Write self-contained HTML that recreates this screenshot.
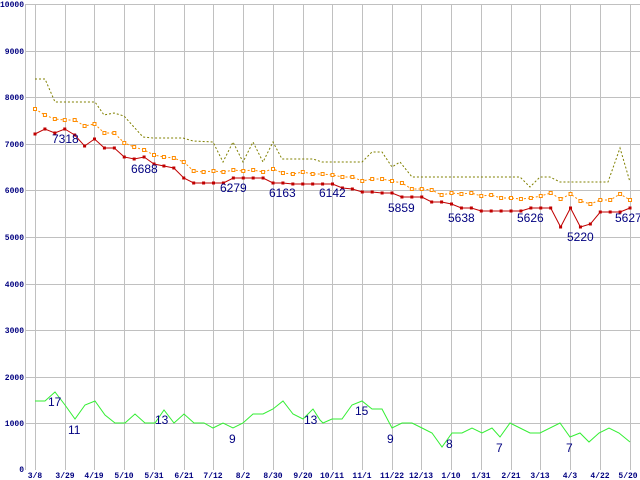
<!DOCTYPE html>
<html><head><style>
html,body{margin:0;padding:0;background:#fff;}
svg{display:block;}
.yl{font:bold 8px "Liberation Mono",monospace;fill:#000080;text-anchor:end;}
.xl{font:bold 8px "Liberation Mono",monospace;fill:#000080;text-anchor:middle;}
.lb{font:12px "Liberation Sans",sans-serif;fill:#000080;}
</style></head><body>
<svg width="640" height="480" xmlns="http://www.w3.org/2000/svg">
<rect width="640" height="480" fill="#fff"/>
<g stroke="#c0c0c0" stroke-width="1">
<line x1="25" y1="4.5" x2="640" y2="4.5"/>
<line x1="25" y1="51.5" x2="640" y2="51.5"/>
<line x1="25" y1="97.5" x2="640" y2="97.5"/>
<line x1="25" y1="144.5" x2="640" y2="144.5"/>
<line x1="25" y1="190.5" x2="640" y2="190.5"/>
<line x1="25" y1="237.5" x2="640" y2="237.5"/>
<line x1="25" y1="284.5" x2="640" y2="284.5"/>
<line x1="25" y1="330.5" x2="640" y2="330.5"/>
<line x1="25" y1="377.5" x2="640" y2="377.5"/>
<line x1="25" y1="423.5" x2="640" y2="423.5"/>
<line x1="25.5" y1="4" x2="25.5" y2="470"/>
<line x1="35.5" y1="4" x2="35.5" y2="470"/><line x1="65.5" y1="4" x2="65.5" y2="470"/><line x1="94.5" y1="4" x2="94.5" y2="470"/><line x1="124.5" y1="4" x2="124.5" y2="470"/><line x1="154.5" y1="4" x2="154.5" y2="470"/><line x1="184.5" y1="4" x2="184.5" y2="470"/><line x1="213.5" y1="4" x2="213.5" y2="470"/><line x1="243.5" y1="4" x2="243.5" y2="470"/><line x1="273.5" y1="4" x2="273.5" y2="470"/><line x1="303.5" y1="4" x2="303.5" y2="470"/><line x1="332.5" y1="4" x2="332.5" y2="470"/><line x1="362.5" y1="4" x2="362.5" y2="470"/><line x1="392.5" y1="4" x2="392.5" y2="470"/><line x1="421.5" y1="4" x2="421.5" y2="470"/><line x1="451.5" y1="4" x2="451.5" y2="470"/><line x1="481.5" y1="4" x2="481.5" y2="470"/><line x1="511.5" y1="4" x2="511.5" y2="470"/><line x1="540.5" y1="4" x2="540.5" y2="470"/><line x1="570.5" y1="4" x2="570.5" y2="470"/><line x1="600.5" y1="4" x2="600.5" y2="470"/><line x1="630.5" y1="4" x2="630.5" y2="470"/>
</g>
<g>
<text class="yl" x="24" y="7">10000</text>
<text class="yl" x="24" y="54">9000</text>
<text class="yl" x="24" y="100">8000</text>
<text class="yl" x="24" y="147">7000</text>
<text class="yl" x="24" y="193">6000</text>
<text class="yl" x="24" y="240">5000</text>
<text class="yl" x="24" y="287">4000</text>
<text class="yl" x="24" y="333">3000</text>
<text class="yl" x="24" y="380">2000</text>
<text class="yl" x="24" y="426">1000</text>
<text class="yl" x="24" y="472">0</text>
</g>
<g>
<text class="xl" x="35" y="478">3/8</text><text class="xl" x="65" y="478">3/29</text><text class="xl" x="94" y="478">4/19</text><text class="xl" x="124" y="478">5/10</text><text class="xl" x="154" y="478">5/31</text><text class="xl" x="184" y="478">6/21</text><text class="xl" x="213" y="478">7/12</text><text class="xl" x="243" y="478">8/2</text><text class="xl" x="273" y="478">8/30</text><text class="xl" x="303" y="478">9/20</text><text class="xl" x="332" y="478">10/11</text><text class="xl" x="362" y="478">11/1</text><text class="xl" x="392" y="478">11/22</text><text class="xl" x="421" y="478">12/13</text><text class="xl" x="451" y="478">1/10</text><text class="xl" x="481" y="478">1/31</text><text class="xl" x="511" y="478">2/21</text><text class="xl" x="540" y="478">3/13</text><text class="xl" x="570" y="478">4/3</text><text class="xl" x="600" y="478">4/22</text><text class="xl" x="628" y="478">5/20</text>
</g>
<polyline fill="none" stroke="#808000" stroke-width="1" stroke-dasharray="2,2" points="35,79 45,79 55,102 95,102 104,115 114,113 124,116 143,137 153,138 183,138 193,141 213,142 223,162 233,142 243,162 253,142 263,162 273,142 282,159 313,159 322,162 362,162 372,152 382,152 392,167 400,162 412,177 520,177 530,187 540,177 550,177 560,182 608,182 620,148 630,182"/>
<polyline id="o" fill="none" stroke="#ff8c00" stroke-width="1" stroke-dasharray="2,2" points=""/>
<g id="om"></g>
<polyline id="r" fill="none" stroke="#c00000" stroke-width="1" points=""/>
<g id="rm"></g>
<polyline fill="none" stroke="#33ee33" stroke-width="1" points="35,401 45,401 55,392 65,405 75,419 85,405 95,401 105,415 115,423 125,423 135,414 145,423 155,423 164,410 174,423 184,414 194,423 204,423 213,428 223,423 233,428 243,423 253,414 263,414 273,409 283,401 293,414 303,419 313,409 320,420 323,423 332,419 342,419 352,405 362,401 372,409 382,409 392,428 402,423 412,423 422,428 432,433 442,447 452,433 462,433 472,428 482,433 492,428 500,437 510,423 520,428 530,433 540,433 560,423 570,437 580,433 589,442 599,433 609,428 619,433 630,442"/>
<g class="lb">
<text class="lb" x="52" y="143">7318</text>
<text class="lb" x="131" y="173">6688</text>
<text class="lb" x="220" y="192">6279</text>
<text class="lb" x="269" y="197">6163</text>
<text class="lb" x="319" y="197">6142</text>
<text class="lb" x="388" y="212">5859</text>
<text class="lb" x="448" y="222">5638</text>
<text class="lb" x="517" y="222">5626</text>
<text class="lb" x="567" y="241">5220</text>
<text class="lb" x="615" y="222">5627</text>
<text class="lb" x="48" y="406">17</text>
<text class="lb" x="68" y="434">11</text>
<text class="lb" x="155" y="424">13</text>
<text class="lb" x="229" y="443">9</text>
<text class="lb" x="304" y="424">13</text>
<text class="lb" x="355" y="415">15</text>
<text class="lb" x="387" y="443">9</text>
<text class="lb" x="446" y="448">8</text>
<text class="lb" x="496" y="452">7</text>
<text class="lb" x="566" y="452">7</text>
</g>
<script>
var R=[134,129,133,129,135,146,139,148,148,157,159,157,164,166,168,178,183,183,183,183,178,178,178,178,183,183,184,184,184,184,184,188,189,192,192,193,193,197,197,197,202,202,204,208,208,211,211,211,211,211,208,208,208,227,208,227,224,212,212,212,208];
var O=[109,115,119,120,120,126,124,133,133,143,147,150,155,157,158,162,171,172,171,172,170,171,170,172,169,173,174,172,174,174,175,177,177,181,179,179,181,183,189,189,190,195,193,194,193,196,195,198,198,199,198,196,193,199,194,201,204,200,200,194,200];
function X(i){return 35+i*9.917;}
var ns="http://www.w3.org/2000/svg";
var rp=[],op=[],rm=document.getElementById('rm'),om=document.getElementById('om');
for(var i=0;i<61;i++){var x=X(i);rp.push(x.toFixed(1)+','+R[i]);op.push(x.toFixed(1)+','+O[i]);
var a=document.createElementNS(ns,'rect');a.setAttribute('x',x-1.5);a.setAttribute('y',R[i]-1.5);a.setAttribute('width',3);a.setAttribute('height',3);a.setAttribute('fill','#c00000');rm.appendChild(a);
var b=document.createElementNS(ns,'rect');b.setAttribute('x',x-1.5);b.setAttribute('y',O[i]-1.5);b.setAttribute('width',3);b.setAttribute('height',3);b.setAttribute('fill','#fff');b.setAttribute('stroke','#ff8c00');b.setAttribute('stroke-width','1');om.appendChild(b);}
document.getElementById('r').setAttribute('points',rp.join(' '));
document.getElementById('o').setAttribute('points',op.join(' '));
</script>
</svg>
</body></html>
